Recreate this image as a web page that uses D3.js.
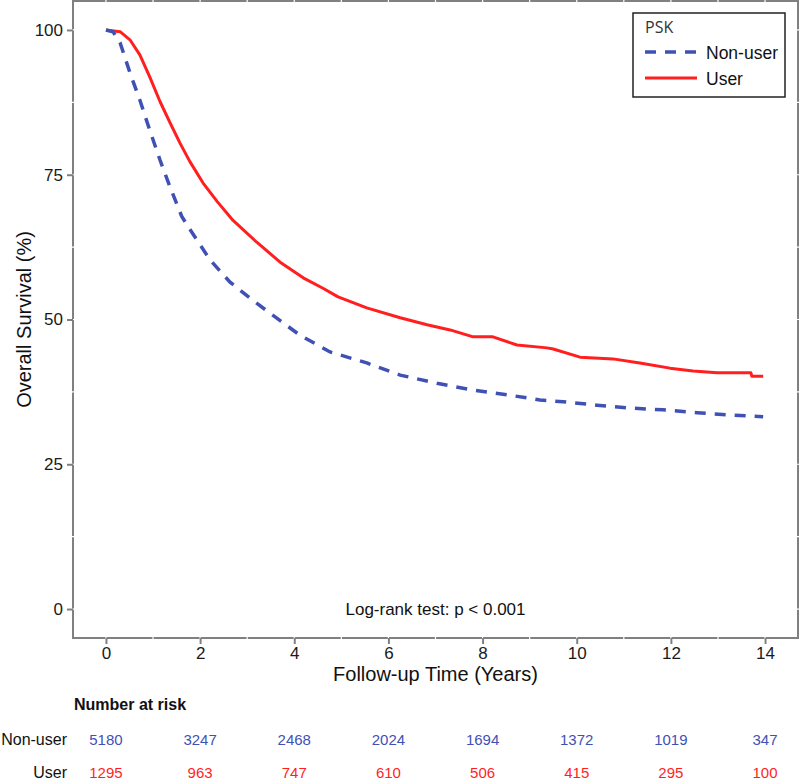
<!DOCTYPE html>
<html>
<head>
<meta charset="utf-8">
<script src="https://cdn.jsdelivr.net/npm/d3@7"></script>
<style>
  html, body { margin: 0; padding: 0; background: #fff; }
  svg { display: block; font-family: "Liberation Sans", Arial, sans-serif; }
</style>
</head>
<body>
<svg id="chart" width="800" height="780"></svg>
<script>
// ---- Data ----
const groups = ["Non-user", "User"];
const nonUserTime = [0, 0.15, 0.30, 0.51, 0.72, 0.93, 1.15, 1.36, 1.61, 1.78, 2.00, 2.21, 2.63, 3.12, 3.60, 4.12, 4.76, 5.54, 6.25, 7.03, 7.80, 8.52, 9.22, 9.71, 10.43, 11.13, 11.83, 12.56, 13.26, 13.96];
const nonUserSurv = [100, 99.7, 97.8, 92.6, 87.9, 82.7, 77.5, 72.9, 67.8, 65.6, 62.9, 60.3, 56.5, 53.3, 50.4, 47.3, 44.4, 42.5, 40.4, 39.0, 37.8, 37.0, 36.1, 35.8, 35.2, 34.7, 34.4, 33.9, 33.5, 33.2];
const userTime = [0, 0.30, 0.51, 0.72, 0.93, 1.15, 1.36, 1.57, 1.78, 2.06, 2.36, 2.70, 3.21, 3.70, 4.19, 4.61, 4.93, 5.54, 6.25, 6.82, 7.31, 7.80, 8.22, 8.73, 9.37, 9.50, 10.07, 10.77, 11.34, 11.98, 12.47, 12.98, 13.70, 13.72, 13.96];
const userSurv = [100, 99.7, 98.3, 95.7, 91.9, 87.6, 84.0, 80.5, 77.3, 73.6, 70.4, 67.1, 63.3, 59.9, 57.2, 55.4, 53.9, 52.0, 50.3, 49.1, 48.2, 47.0, 47.0, 45.6, 45.1, 44.9, 43.5, 43.2, 42.5, 41.6, 41.1, 40.8, 40.8, 40.2, 40.2];
const xTicks = [0, 2, 4, 6, 8, 10, 12, 14];
const yTicks = [0, 25, 50, 75, 100];
const riskTimes = [0, 2, 4, 6, 8, 10, 12, 14];
const riskNonUser = [5180, 3247, 2468, 2024, 1694, 1372, 1019, 347];
const riskUser = [1295, 963, 747, 610, 506, 415, 295, 100];
const legendTitle = "PSK";
const logRankText = "Log-rank test: p < 0.001";
const xTitle = "Follow-up Time (Years)";
const yTitle = "Overall Survival (%)";
const riskTitle = "Number at risk";

// ---- Styles ----
const blue = "#3F51B5";
const red = "#FF1F1F";
const frameColor = "#808080";

const svg = d3.select("#chart");
const pLeft = 73, pRight = 798, pTop = 1, pBottom = 638;

const x = d3.scaleLinear().domain([-0.7, 14.7]).range([pLeft, pRight]);
const y = d3.scaleLinear().domain([-5, 105]).range([pBottom, pTop]);

// panel frame
svg.append("rect")
  .attr("x", pLeft).attr("y", pTop)
  .attr("width", pRight - pLeft).attr("height", pBottom - pTop)
  .attr("fill", "#fff").attr("stroke", frameColor).attr("stroke-width", 2);

// white grid lines (visible only where they cross the frame)
const gridG = svg.append("g");
gridG.selectAll("line.vx").data(d3.range(0, 15, 1)).join("line")
  .attr("x1", d => x(d)).attr("x2", d => x(d))
  .attr("y1", pTop - 1).attr("y2", pBottom + 1)
  .attr("stroke", "#fff").attr("stroke-width", 1.2);
gridG.selectAll("line.hy").data(d3.range(0, 101, 12.5)).join("line")
  .attr("y1", d => y(d)).attr("y2", d => y(d))
  .attr("x1", pLeft - 1).attr("x2", pRight + 1)
  .attr("stroke", "#fff").attr("stroke-width", 1.2);

// axes
const xAxis = d3.axisBottom(x).tickValues(xTicks).tickSize(6).tickPadding(3).tickFormat(d3.format("d"));
const xg = svg.append("g").attr("transform", `translate(0,${pBottom})`).call(xAxis);
xg.select(".domain").remove();
xg.selectAll(".tick line").attr("stroke", frameColor).attr("stroke-width", 2);
xg.selectAll(".tick text").attr("font-size", 17).attr("fill", "#1a1a1a")
  .attr("font-family", "Liberation Sans, Arial, sans-serif");

const yAxis = d3.axisLeft(y).tickValues(yTicks).tickSize(6).tickPadding(4).tickFormat(d3.format("d"));
const yg = svg.append("g").attr("transform", `translate(${pLeft},0)`).call(yAxis);
yg.select(".domain").remove();
yg.selectAll(".tick line").attr("stroke", frameColor).attr("stroke-width", 2);
yg.selectAll(".tick text").attr("font-size", 17).attr("fill", "#1a1a1a")
  .attr("font-family", "Liberation Sans, Arial, sans-serif");

// axis titles
svg.append("text").attr("x", (pLeft + pRight) / 2).attr("y", 681)
  .attr("text-anchor", "middle").attr("font-size", 20).attr("fill", "#111").text(xTitle);
svg.append("text").attr("transform", `translate(31,${(pTop + pBottom) / 2}) rotate(-90)`)
  .attr("text-anchor", "middle").attr("font-size", 20).attr("fill", "#111").text(yTitle);

// curves
const line = d3.line().x(d => x(d[0])).y(d => y(d[1])).curve(d3.curveLinear);
const nonUserData = nonUserTime.map((t, i) => [t, nonUserSurv[i]]);
const userData = userTime.map((t, i) => [t, userSurv[i]]);

svg.append("path").datum(userData).attr("d", line)
  .attr("fill", "none").attr("stroke", red).attr("stroke-width", 3)
  .attr("stroke-linejoin", "round");
svg.append("path").datum(nonUserData).attr("d", line)
  .attr("fill", "none").attr("stroke", blue).attr("stroke-width", 3.5)
  .attr("stroke-dasharray", "11,9");

// log-rank
svg.append("text").attr("x", (pLeft + pRight) / 2).attr("y", 615)
  .attr("text-anchor", "middle").attr("font-size", 17).attr("fill", "#111").text(logRankText);

// legend
const lg = svg.append("g");
lg.append("rect").attr("x", 633).attr("y", 13).attr("width", 152).attr("height", 84)
  .attr("fill", "#fff").attr("stroke", "#222").attr("stroke-width", 1.5);
lg.append("text").attr("x", 645).attr("y", 33).attr("font-size", 16)
  .attr("font-family", "Open Sans, Liberation Sans, sans-serif").attr("fill", "#333").text(legendTitle);
const legendItems = [
  { name: groups[0], color: blue, dash: "11,9", w: 3.5, yy: 52 },
  { name: groups[1], color: red, dash: null, w: 3, yy: 78 }
];
legendItems.forEach(it => {
  lg.append("line").attr("x1", 645).attr("x2", 697).attr("y1", it.yy).attr("y2", it.yy)
    .attr("stroke", it.color).attr("stroke-width", it.w)
    .attr("stroke-dasharray", it.dash);
  lg.append("text").attr("x", 706).attr("y", it.yy + 7).attr("font-size", 17.5)
    .attr("fill", "#111").text(it.name);
});

// risk table
svg.append("text").attr("x", 74).attr("y", 710).attr("font-size", 16)
  .attr("font-weight", "bold").attr("fill", "#111").text(riskTitle);
const rows = [
  { name: groups[0], vals: riskNonUser, color: blue, yy: 745 },
  { name: groups[1], vals: riskUser, color: red, yy: 778 }
];
rows.forEach(r => {
  svg.append("text").attr("x", 67).attr("y", r.yy).attr("text-anchor", "end")
    .attr("font-size", 16).attr("fill", "#111").text(r.name);
  svg.append("g").selectAll("text").data(riskTimes).join("text")
    .attr("x", d => x(d)).attr("y", r.yy).attr("text-anchor", "middle")
    .attr("font-size", 15).attr("fill", r.color)
    .text((d, i) => r.vals[i]);
});
</script>
</body>
</html>
